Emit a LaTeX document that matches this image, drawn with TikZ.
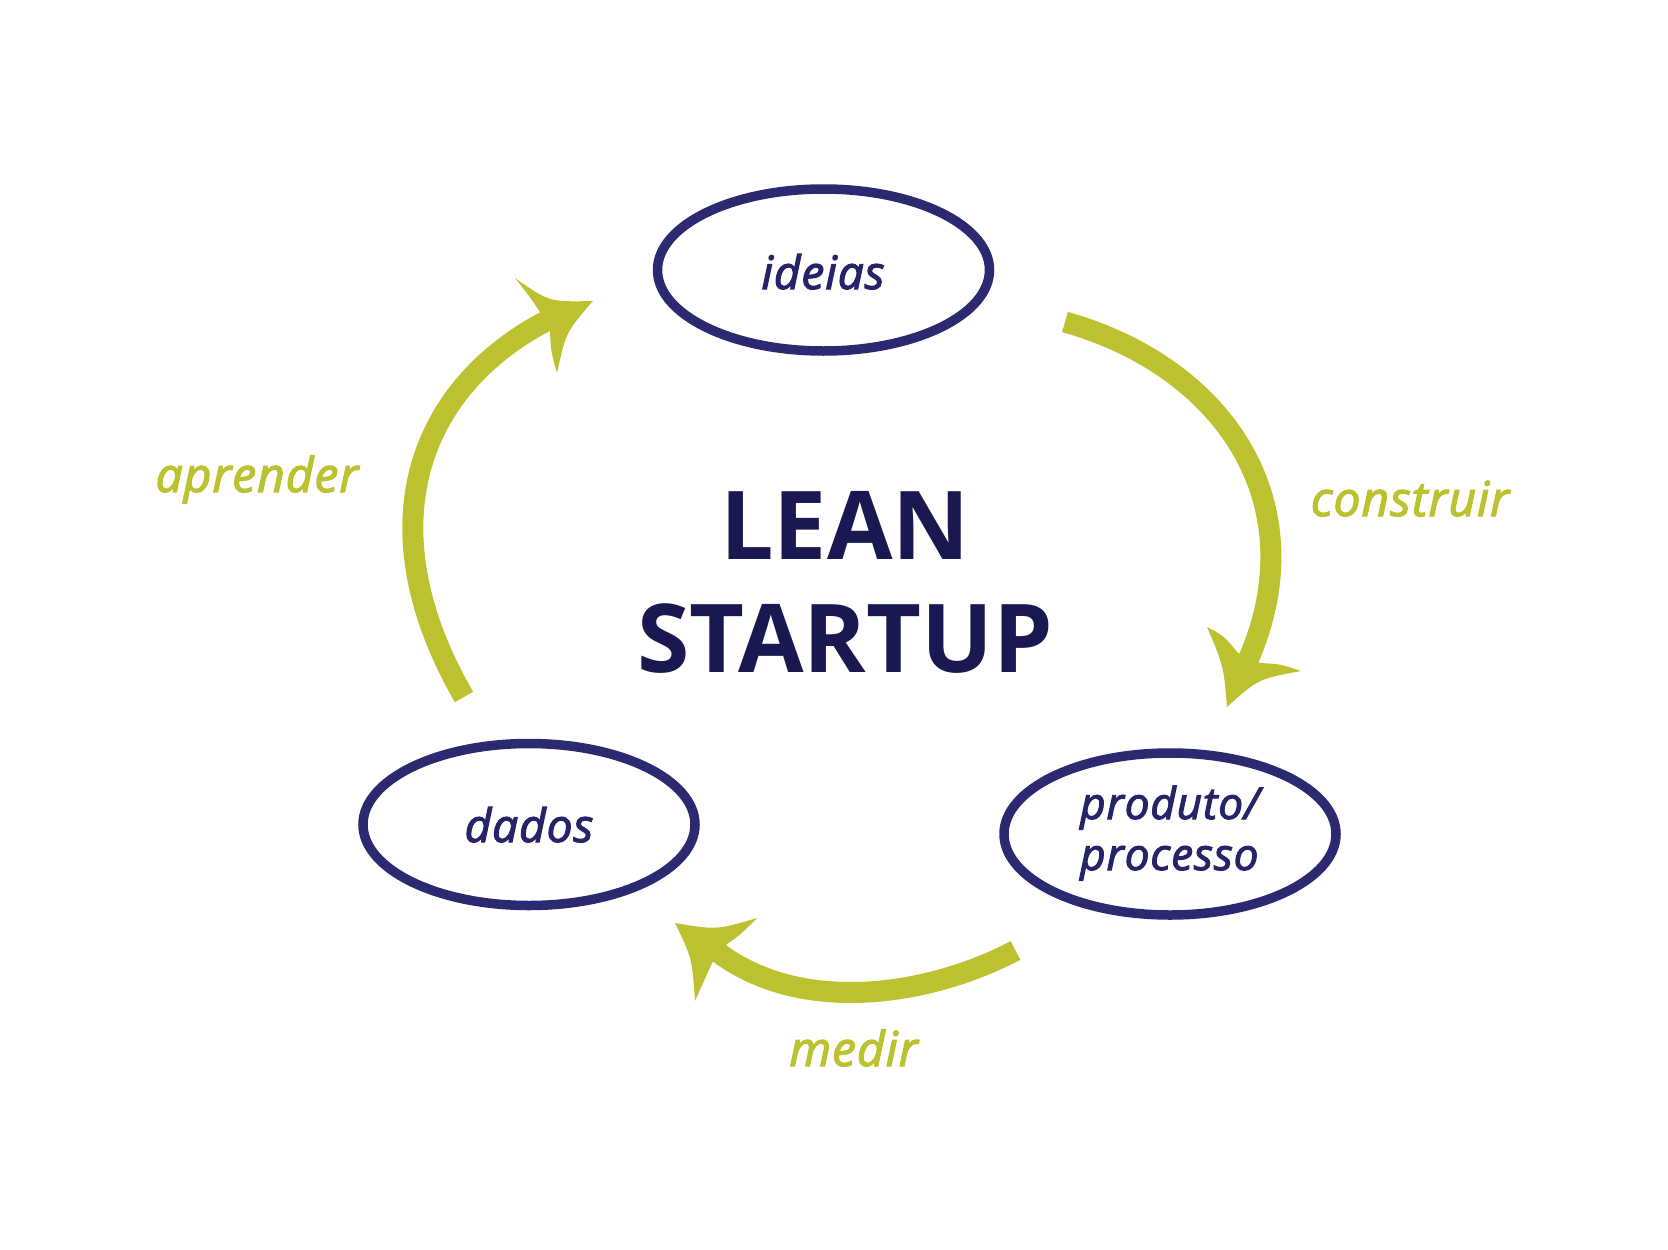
\documentclass[tikz,border=0pt]{standalone}
\usepackage{fontspec}
\setmainfont{Open Sans}
\newfontfamily\lblfont{Open Sans}[ItalicFeatures={FakeBold=2.5}, LetterSpace=2]
\usetikzlibrary{shapes.geometric}
\definecolor{navy}{RGB}{43,42,112}
\definecolor{navytext}{RGB}{37,36,104}
\definecolor{titlecol}{RGB}{26,24,80}
\definecolor{leaf}{RGB}{188,193,47}
\tikzset{
  bubble/.style={ellipse, draw=navy, line width=9.5pt, minimum width=332pt, minimum height=162pt, inner sep=0pt},
  bubbletext/.style={font=\lblfont\fontsize{46}{52}\selectfont\itshape, text=navytext, inner sep=0pt},
  bubbletextsmall/.style={font=\lblfont\fontsize{44}{50}\selectfont\itshape, text=navytext, inner sep=0pt},
  steplabel/.style={font=\lblfont\fontsize{48}{54}\selectfont\itshape, text=leaf, inner sep=0pt},
  titletext/.style={font=\fontsize{95}{113}\selectfont\bfseries, text=titlecol, inner sep=0pt},
  shaft/.style={draw=leaf, line width=21pt, line cap=butt},
  arrowhead/.style={fill=leaf, draw=none}
}
\begin{document}
\begin{tikzpicture}[x=1pt,y=-1pt]
\useasboundingbox (0,0) rectangle (1668,1250);
% ellipses
\node[bubble] (ideias) at (823.5,270) {};
\node[bubble] (dados) at (529,824.5) {};
\node[bubble] (produto) at (1170,834) {};
% ellipse texts
\node[bubbletext, anchor=base] (ideiasT) at (823,289) {ideias};
\node[bubbletext, anchor=base] (dadosT) at (529,842) {dados};
\node[bubbletextsmall, anchor=base west] (produtoT) at (1080,819) {produto/};
\node[bubbletextsmall, anchor=base west] (processoT) at (1080,870) {processo};
% title
\node[titletext, anchor=base] (lean) at (845,559) {LEAN};
\node[titletext, anchor=base] (startup) at (845,672) {STARTUP};
% step labels
\node[steplabel, anchor=base] (aprender) at (257,492) {aprender};
\node[steplabel, anchor=base] (construir) at (1410,516) {construir};
\node[steplabel, anchor=base] (medir) at (853.5,1066) {medir};
% connector end points
\coordinate (c1s) at (1065,322);
\coordinate (c1e) at (1246.5,663.5);
\coordinate (c2s) at (1015.5,950.5);
\coordinate (c2e) at (714.8,949.8);
\coordinate (c3s) at (464,697);
\coordinate (c3e) at (550,319);
% construir: ideias -> produto
\draw[shaft] (c1s) .. controls (1228,368) and (1317,508) .. (c1e);
\fill[arrowhead] (1227,707) .. controls (1223.5,665.4) .. (1207,627) .. controls (1224,636) .. (1238,653) -- (1260,663) .. controls (1280,664) .. (1301,671) .. controls (1258,679) .. (1227,707) -- cycle;
% medir: produto -> dados
\draw[shaft] (c2s) .. controls (927,997) and (798,1015.5) .. (c2e);
\fill[arrowhead] (695,1001) .. controls (692,958) .. (675,923) .. controls (716.5,930) .. (757,918) .. controls (740,935) .. (727,944) -- (712,963) -- (695,1001) -- cycle;
% aprender: dados -> ideias
\draw[shaft] (c3s) .. controls (364,524) and (420,385) .. (c3e);
\fill[arrowhead] (593,301) .. controls (549,302) .. (515,278) .. controls (530,297) .. (540,312) -- (550,332) .. controls (551,352) .. (557,373) .. controls (566,332) .. (593,301) -- cycle;
\end{tikzpicture}
\end{document}
